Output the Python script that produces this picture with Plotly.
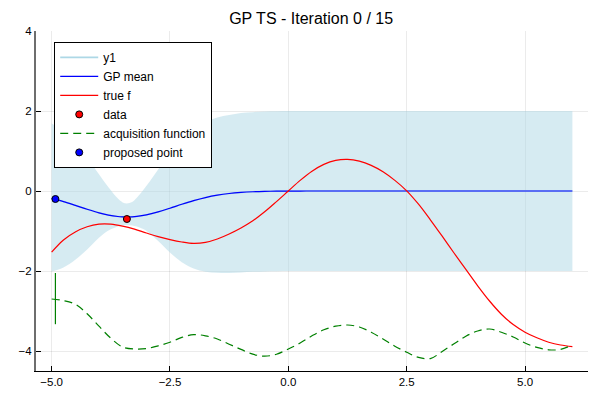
import plotly.graph_objects as go

x_grid = [-5.0, -4.75, -4.5, -4.25, -4.0, -3.75, -3.5, -3.25, -3.0, -2.75,
          -2.5, -2.25, -2.0, -1.75, -1.5, -1.25, -1.0, -0.75, -0.5, -0.25,
          0.0, 0.25, 0.5, 0.75, 1.0, 1.25, 1.5, 1.75, 2.0, 2.25,
          2.5, 2.75, 3.0, 3.25, 3.5, 3.75, 4.0, 4.25, 4.5, 4.75,
          5.0, 5.25, 5.5, 5.75, 6.0]

# finer near the observed point, for the GP posterior
x_band = [-5.0, -4.75, -4.5, -4.25, -4.0, -3.8, -3.6, -3.5, -3.41, -3.3, -3.2, -3.0, -2.75,
          -2.5, -2.25, -2.0, -1.75, -1.5, -1.25, -1.0, -0.75, -0.5, -0.25,
          0.0, 0.25, 0.5, 0.75, 1.0, 1.25, 1.5, 1.75, 2.0, 2.25,
          2.5, 2.75, 3.0, 3.25, 3.5, 3.75, 4.0, 4.25, 4.5, 4.75,
          5.0, 5.25, 5.5, 5.75, 6.0]

gp_mean = [-0.184, -0.265, -0.359, -0.457, -0.546, -0.602, -0.638, -0.647, -0.650, -0.646, -0.636, -0.598, -0.523,
           -0.430, -0.332, -0.241, -0.164, -0.105, -0.063, -0.036, -0.019, -0.009, -0.004,
           -0.002, -0.001, 0.0, 0.0, 0.0, 0.0, 0.0, 0.0, 0.0, 0.0,
           0.0, 0.0, 0.0, 0.0, 0.0, 0.0, 0.0, 0.0, 0.0, 0.0,
           0.0, 0.0, 0.0, 0.0, 0.0]

band_upper = [1.69, 1.50, 1.22, 0.84, 0.42, 0.095, -0.19, -0.285, -0.31, -0.275, -0.17, 0.125, 0.54,
              0.96, 1.31, 1.56, 1.73, 1.84, 1.90, 1.95, 1.97, 1.99, 1.995,
              2.0, 2.0, 2.0, 2.0, 2.0, 2.0, 2.0, 2.0, 2.0, 2.0,
              2.0, 2.0, 2.0, 2.0, 2.0, 2.0, 2.0, 2.0, 2.0, 2.0,
              2.0, 2.0, 2.0, 2.0, 2.0]

band_lower = [-2.01, -1.91, -1.72, -1.46, -1.17, -0.985, -0.885, -0.858, -0.85, -0.862, -0.89, -0.995, -1.25,
              -1.54, -1.78, -1.94, -2.02, -2.045, -2.05, -2.035, -2.02, -2.01, -2.005,
              -2.0, -2.0, -2.0, -2.0, -2.0, -2.0, -2.0, -2.0, -2.0, -2.0,
              -2.0, -2.0, -2.0, -2.0, -2.0, -2.0, -2.0, -2.0, -2.0, -2.0,
              -2.0, -2.0, -2.0, -2.0, -2.0]

true_f = [-1.53, -1.225, -1.025, -0.895, -0.83, -0.83, -0.88, -0.955, -1.05, -1.14,
          -1.215, -1.275, -1.31, -1.285, -1.20, -1.075, -0.925, -0.745, -0.52, -0.265,
          0.0, 0.265, 0.495, 0.665, 0.765, 0.79, 0.745, 0.64, 0.48, 0.265,
          0.005, -0.33, -0.72, -1.13, -1.55, -1.96, -2.37, -2.75, -3.08, -3.34,
          -3.53, -3.67, -3.78, -3.85, -3.89]

acq = [-2.70, -2.74, -2.83, -3.07, -3.38, -3.68, -3.90, -3.95, -3.94, -3.87,
       -3.78, -3.66, -3.59, -3.62, -3.70, -3.83, -3.96, -4.08, -4.13, -4.08,
       -3.95, -3.80, -3.62, -3.47, -3.38, -3.35, -3.40, -3.53, -3.70, -3.88,
       -4.03, -4.16, -4.19, -4.01, -3.82, -3.63, -3.50, -3.45, -3.53, -3.65,
       -3.80, -3.91, -3.97, -3.96, -3.85]

data_x = [-3.41]
data_y = [-0.70]

proposed_x = [-4.92]
proposed_y = [-0.20]

# small green stick at the proposed point
stick_x = [-4.92, -4.92]
stick_y = [-2.05, -3.33]

band_fill = "rgba(173,216,230,0.5)"

fig = go.Figure()

fig.add_trace(go.Scatter(x=x_band, y=band_lower, mode="lines", line=dict(width=0, shape="spline"),
                         showlegend=False, hoverinfo="skip"))
fig.add_trace(go.Scatter(x=x_band, y=band_upper, mode="lines", line=dict(width=0, shape="spline"),
                         fill="tonexty", fillcolor=band_fill, showlegend=False, hoverinfo="skip"))
fig.add_trace(go.Scatter(x=x_band, y=gp_mean, mode="lines", name="y1",
                         line=dict(color="rgb(173,216,230)", width=1.6, shape="spline")))
fig.add_trace(go.Scatter(x=x_band, y=gp_mean, mode="lines", name="GP mean",
                         line=dict(color="blue", width=1.2, shape="spline")))
fig.add_trace(go.Scatter(x=x_grid, y=true_f, mode="lines", name="true f",
                         line=dict(color="red", width=1.2, shape="spline")))
fig.add_trace(go.Scatter(x=data_x, y=data_y, mode="markers", name="data",
                         marker=dict(color="red", size=7, line=dict(color="black", width=1))))
fig.add_trace(go.Scatter(x=x_grid, y=acq, mode="lines", name="acquisition function",
                         line=dict(color="green", width=1.2, dash="8px,5px", shape="spline")))
fig.add_trace(go.Scatter(x=stick_x, y=stick_y, mode="lines", showlegend=False,
                         line=dict(color="green", width=1.2)))
fig.add_trace(go.Scatter(x=proposed_x, y=proposed_y, mode="markers", name="proposed point",
                         marker=dict(color="blue", size=7, line=dict(color="black", width=1))))

# page body adds 8px, so the figure is 8px smaller than the window
fig.update_layout(
    width=592, height=392,
    margin=dict(l=28, r=12, t=23, b=29),
    paper_bgcolor="white", plot_bgcolor="white",
    font=dict(family="Liberation Sans, Arial, sans-serif", size=12, color="black"),
    title=dict(text="GP TS - Iteration 0 / 15", x=0.512, xanchor="center", y=0.9745, yanchor="middle",
               font=dict(size=16, color="black")),
    legend=dict(x=0.033, y=0.968, xanchor="left", yanchor="top", traceorder="normal",
                bgcolor="white", bordercolor="black", borderwidth=1, itemwidth=38,
                font=dict(size=12), tracegroupgap=0),
)

fig.update_xaxes(range=[-5.33, 6.33], tick0=-5, dtick=2.5, tickformat=".1f",
                 ticks="inside", ticklen=5, tickcolor="black", automargin=False,
                 showline=True, linecolor="black", linewidth=1,
                 showgrid=True, gridcolor="rgba(0,0,0,0.08)", gridwidth=1,
                 zeroline=False, tickfont=dict(size=11.5))
fig.update_yaxes(range=[-4.5, 4.0], tick0=-4, dtick=2, tickformat="d",
                 ticks="inside", ticklen=5, tickcolor="black", automargin=False,
                 showline=True, linecolor="rgb(110,110,110)", linewidth=2,
                 showgrid=True, gridcolor="rgba(0,0,0,0.08)", gridwidth=1,
                 zeroline=False, tickfont=dict(size=11.5))

fig.write_html("out.html")
